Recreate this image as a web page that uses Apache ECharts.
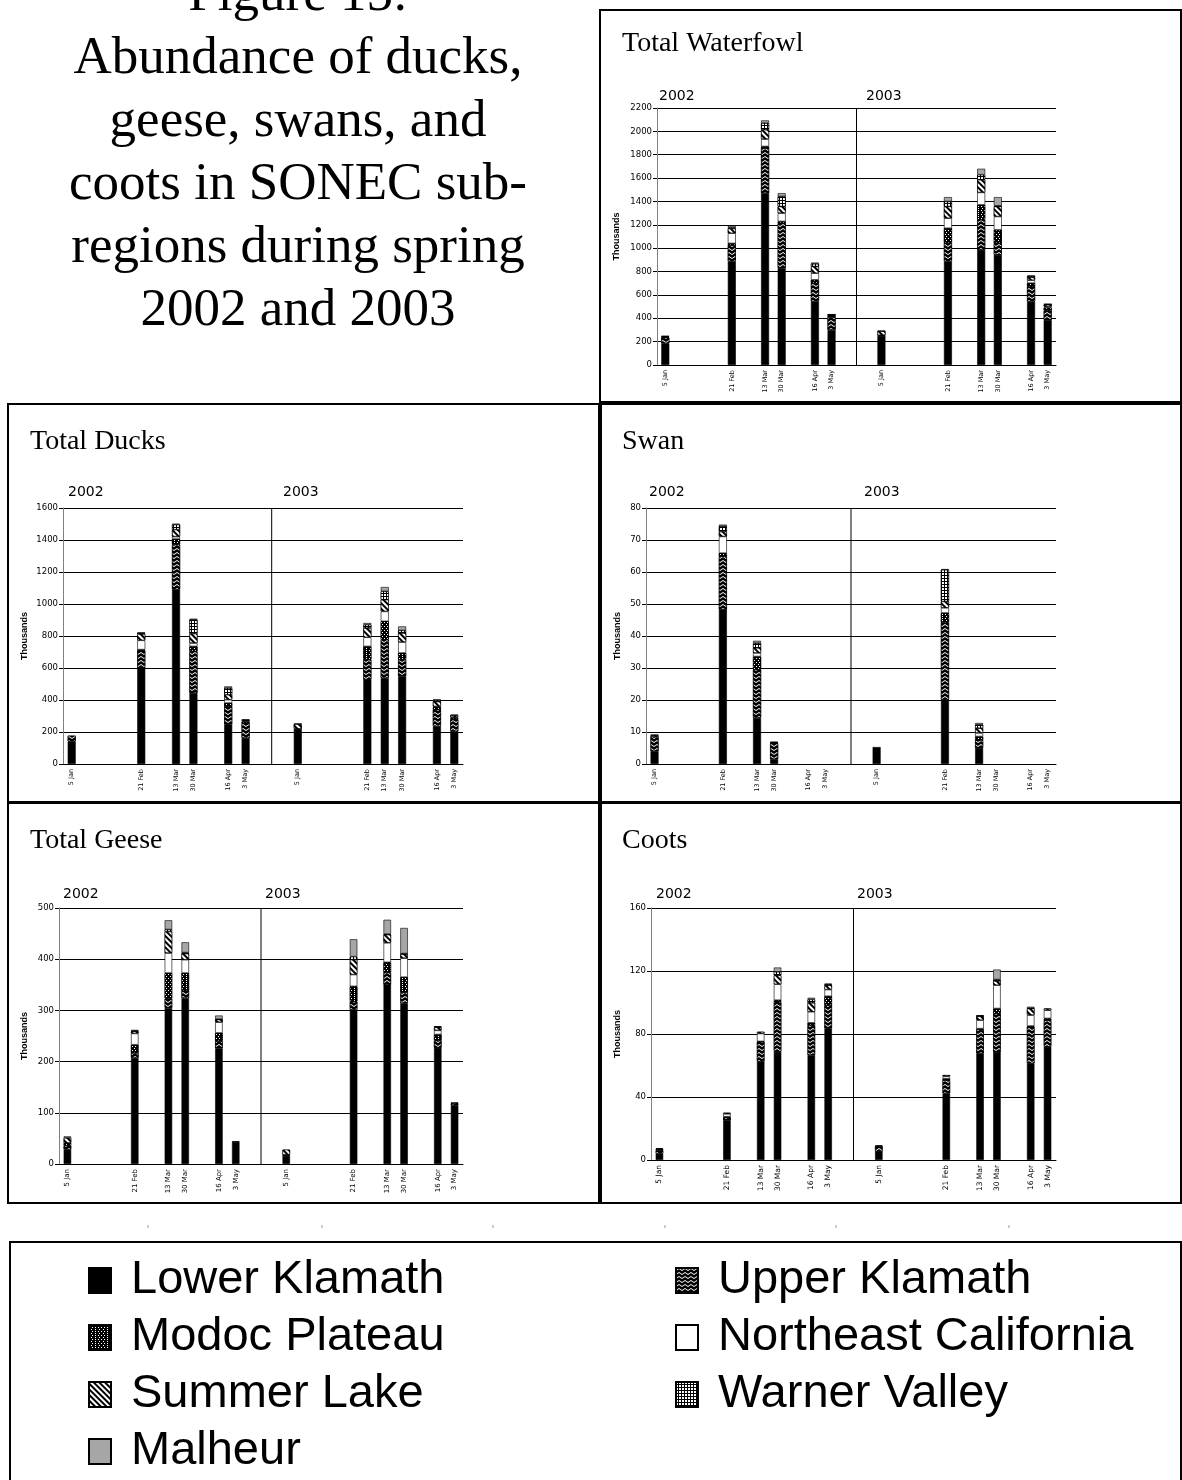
<!DOCTYPE html>
<html>
<head>
<meta charset="utf-8">
<script src="https://cdn.jsdelivr.net/npm/echarts@6/dist/echarts.min.js"></script>
<style>
  html, body { margin: 0; padding: 0; background: #fff; }
  #chart { width: 1182px; height: 1480px; }
</style>
</head>
<body>
<div id="chart"></div>
<script>
// Survey slots per year; blank slots keep the spacing between survey dates.
const dates2002 = ['5 Jan', '', '', '', '21 Feb', '', '13 Mar', '30 Mar', '', '16 Apr', '3 May', ''];
const dates2003 = ['', '5 Jan', '', '', '', '21 Feb', '', '13 Mar', '30 Mar', '', '16 Apr', '3 May'];
const dates2003Ducks = ['', '5 Jan', '', '', '', '21 Feb', '13 Mar', '30 Mar', '', '16 Apr', '3 May'];

const regions = ['Lower Klamath', 'Upper Klamath', 'Modoc Plateau', 'Northeast California',
                 'Summer Lake', 'Warner Valley', 'Malheur'];

// Counts in thousands, one value per survey:
// 2002: 5 Jan, 21 Feb, 13 Mar, 30 Mar, 16 Apr, 3 May | 2003: same dates
const waterfowlLowerKlamath = [185, 886, 1471, 829, 543, 300, 250, 886, 986, 943, 543, 386];
const waterfowlUpperKlamath = [50, 140, 386, 385, 157, 110, 5, 157, 257, 100, 128, 80];
const waterfowlModoc        = [5, 15, 14, 15, 29, 8, 0, 128, 128, 114, 30, 25];
const waterfowlNECalifornia = [0, 87, 63, 71, 57, 4, 0, 86, 106, 114, 25, 10];
const waterfowlSummerLake   = [5, 40, 80, 57, 57, 6, 35, 100, 109, 86, 25, 15];
const waterfowlWarner       = [0, 8, 57, 86, 23, 3, 0, 43, 43, 6, 10, 4];
const waterfowlMalheur      = [4, 15, 23, 28, 11, 3, 4, 37, 51, 74, 5, 3];

const ducksLowerKlamath = [142, 600, 1090, 444, 246, 162, 220, 527, 537, 548, 235, 204];
const ducksUpperKlamath = [35, 110, 281, 260, 114, 94, 0, 125, 240, 104, 105, 73];
const ducksModoc        = [0, 5, 35, 31, 21, 8, 0, 83, 115, 42, 15, 10];
const ducksNECalifornia = [0, 58, 15, 21, 21, 5, 0, 57, 62, 68, 5, 5];
const ducksSummerLake   = [0, 40, 44, 59, 31, 5, 30, 58, 73, 57, 30, 10];
const ducksWarner       = [0, 5, 31, 87, 42, 3, 0, 21, 52, 16, 10, 6];
const ducksMalheur      = [0, 5, 6, 6, 10, 0, 2, 10, 27, 25, 2, 0];

const swanLowerKlamath = [4, 48.2, 14.4, 1.5, 0, 0, 5.3, 20.1, 5, 0, 0, 0];
const swanUpperKlamath = [4.5, 16.7, 15.1, 5.0, 0, 0, 0, 24.0, 2.5, 0, 0, 0];
const swanModoc        = [0, 1, 4.1, 0.2, 0, 0, 0, 3.1, 1.1, 0, 0, 0];
const swanNECalifornia = [0, 5.2, 1.1, 0, 0, 0, 0, 1.6, 1.1, 0, 0, 0];
const swanSummerLake   = [0.5, 1.5, 1.6, 0.2, 0, 0, 0, 2.0, 1.5, 0, 0, 0];
const swanWarner       = [0, 1.7, 1.5, 0, 0, 0, 0, 9.9, 1.1, 0, 0, 0];
const swanMalheur      = [0.2, 0.5, 0.7, 0, 0, 0, 0, 0.2, 0.5, 0, 0, 0];

const geeseLowerKlamath = [28, 207, 305, 324, 226, 43, 16, 301, 350, 314, 227, 115];
const geeseUpperKlamath = [8, 10, 18, 14, 14, 0, 2, 16, 24, 21, 14, 3];
const geeseModoc        = [5, 16, 50, 35, 16, 1, 0, 30, 20, 30, 12, 0];
const geeseNECalifornia = [0, 22, 39, 26, 21, 0, 0, 23, 38, 37, 8, 0];
const geeseSummerLake   = [10, 4, 42, 12, 5, 0, 10, 29, 16, 8, 6, 2];
const geeseWarner       = [0, 1, 4, 2, 1, 0, 0, 6, 1, 1, 1, 0];
const geeseMalheur      = [3, 2, 18, 20, 7, 0, 0, 34, 28, 50, 1, 0];

const cootsLowerKlamath = [4, 25.4, 62.4, 68.7, 66.6, 83.5, 5.3, 42.3, 67.7, 68.7, 61.3, 71.9];
const cootsUpperKlamath = [2, 1.6, 12.6, 31.7, 19, 14.8, 3.5, 8.4, 15.2, 24.3, 23.3, 16.9];
const cootsModoc        = [1, 0.5, 0.3, 1.1, 1.5, 5.7, 0.3, 1.0, 0.5, 3.2, 0.5, 1.1];
const cootsNECalifornia = [0, 1.8, 5.0, 10.1, 7, 4.2, 0, 1.5, 5.4, 14.8, 6.9, 5.2];
const cootsSummerLake   = [0.4, 0.7, 1.1, 5.7, 5.7, 2.8, 0, 0.7, 2.5, 2.7, 4.2, 1.1];
const cootsWarner       = [0, 0, 0, 2.2, 2.1, 0.5, 0, 0, 0.3, 0.9, 0.2, 0];
const cootsMalheur      = [0, 0, 0, 2.7, 1.1, 0.5, 0, 0, 0.2, 6.3, 0.9, 0];

// Fill patterns for each sub-region
const regionStyle = {
  'Lower Klamath': { color: '#000' },
  'Upper Klamath': { color: '#000', decal: {
      symbol: 'path://M0,2L3,0L6,2L6,3L3,1L0,3Z', symbolSize: 1, symbolKeepAspect: false,
      color: '#fff', backgroundColor: '#000', dashArrayX: [6, 0], dashArrayY: [3, 1] } },
  'Modoc Plateau': { color: '#000', decal: {
      symbol: 'rect', symbolSize: 1, color: '#fff', backgroundColor: '#000',
      dashArrayX: [[1, 2], [0, 1.5, 1, 0.5]], dashArrayY: [1, 1] } },
  'Northeast California': { color: '#fff' },
  'Summer Lake': { color: '#000', decal: {
      symbol: 'rect', symbolSize: 1, color: '#000', backgroundColor: '#fff',
      dashArrayX: [1, 0], dashArrayY: [2, 2], rotation: Math.PI / 4 } },
  'Warner Valley': { color: '#000', decal: {
      symbol: 'rect', symbolSize: 1, color: '#fff', backgroundColor: '#000',
      dashArrayX: [2, 1], dashArrayY: [2, 1] } },
  'Malheur': { color: '#a6a6a6' }
};

const panels = [
  { id: 'waterfowl', title: 'Total Waterfowl', frame: [600, 10, 581, 392], titleAt: [622, 44],
    grid: { left: 657, top: 108, width: 399, height: 257 }, yMax: 2200, yStep: 200, nameGap: 36,
    years: [[659, 96], [866, 96]], labels: dates2002.concat(dates2003), barWidth: 8, xFont: 6.5,
    data: [waterfowlLowerKlamath, waterfowlUpperKlamath, waterfowlModoc, waterfowlNECalifornia,
           waterfowlSummerLake, waterfowlWarner, waterfowlMalheur] },
  { id: 'ducks', title: 'Total Ducks', frame: [8, 404, 591, 398], titleAt: [30, 442],
    grid: { left: 63, top: 508, width: 400, height: 256 }, yMax: 1600, yStep: 200, nameGap: 34,
    years: [[68, 492], [283, 492]], labels: dates2002.concat(dates2003Ducks), barWidth: 8, xFont: 6.5,
    data: [ducksLowerKlamath, ducksUpperKlamath, ducksModoc, ducksNECalifornia,
           ducksSummerLake, ducksWarner, ducksMalheur] },
  { id: 'swan', title: 'Swan', frame: [601, 404, 580, 398], titleAt: [622, 442],
    grid: { left: 646, top: 508, width: 410, height: 256 }, yMax: 80, yStep: 10, nameGap: 24,
    years: [[649, 492], [864, 492]], labels: dates2002.concat(dates2003), barWidth: 8, xFont: 6.5,
    data: [swanLowerKlamath, swanUpperKlamath, swanModoc, swanNECalifornia,
           swanSummerLake, swanWarner, swanMalheur] },
  { id: 'geese', title: 'Total Geese', frame: [8, 803, 591, 400], titleAt: [30, 841],
    grid: { left: 59, top: 908, width: 404, height: 256 }, yMax: 500, yStep: 100, nameGap: 30,
    years: [[63, 894], [265, 894]], labels: dates2002.concat(dates2003), barWidth: 7.5, xFont: 7,
    data: [geeseLowerKlamath, geeseUpperKlamath, geeseModoc, geeseNECalifornia,
           geeseSummerLake, geeseWarner, geeseMalheur] },
  { id: 'coots', title: 'Coots', frame: [601, 803, 580, 400], titleAt: [622, 841],
    grid: { left: 651, top: 908, width: 405, height: 252 }, yMax: 160, yStep: 40, nameGap: 29,
    years: [[656, 894], [857, 894]], labels: dates2002.concat(dates2003), barWidth: 7.5, xFont: 7.5,
    data: [cootsLowerKlamath, cootsUpperKlamath, cootsModoc, cootsNECalifornia,
           cootsSummerLake, cootsWarner, cootsMalheur] }
];

// Place the per-survey values into their date slots
function slotData(labels, values) {
  let k = 0;
  return labels.map(function (l) {
    if (!l) return null;
    const v = values[k++];
    return v ? v : null;
  });
}

const CHART_FONT = '"DejaVu Sans", Verdana, sans-serif';
const grids = [], xAxes = [], yAxes = [], series = [], graphics = [];

panels.forEach(function (p, i) {
  grids.push(Object.assign({ containLabel: false }, p.grid));
  xAxes.push({
    type: 'category', gridIndex: i, data: p.labels,
    axisLine: { lineStyle: { color: '#000', width: 1 } },
    axisTick: { interval: 0, length: 4, lineStyle: { color: '#000' } },
    axisLabel: { interval: 0, rotate: 90, fontSize: p.xFont, fontFamily: CHART_FONT, color: '#000', margin: 5 },
    splitLine: { show: false }
  });
  // hidden slot-scale axis used for the year divider
  xAxes.push({ type: 'value', gridIndex: i, min: 0, max: p.labels.length, show: false });
  yAxes.push({
    type: 'value', gridIndex: i, min: 0, max: p.yMax, interval: p.yStep,
    name: 'Thousands', nameLocation: 'middle', nameGap: p.nameGap,
    nameTextStyle: { fontSize: 9, fontWeight: 'bold', fontFamily: '"Liberation Sans", Arial, sans-serif', color: '#000' },
    axisLine: { show: true, lineStyle: { color: '#808080', width: 1 } },
    axisTick: { show: true, length: 4, lineStyle: { color: '#000' } },
    axisLabel: { fontSize: 8.5, fontFamily: CHART_FONT, color: '#000', margin: 5,
                 formatter: function (v) { return String(v); } },
    splitLine: { show: true, lineStyle: { color: '#000', width: 1 } }
  });
  regions.forEach(function (r, j) {
    series.push({
      type: 'bar', name: r, xAxisIndex: 2 * i, yAxisIndex: i, stack: p.id,
      barWidth: p.barWidth, data: slotData(p.labels, p.data[j]),
      itemStyle: Object.assign({ borderColor: '#000', borderWidth: 0.6 }, regionStyle[r]),
      emphasis: { disabled: true }
    });
  });
  series.push({
    type: 'line', xAxisIndex: 2 * i + 1, yAxisIndex: i, silent: true,
    data: [[dates2002.length, 0], [dates2002.length, p.yMax]],
    symbol: 'none', lineStyle: { color: '#000', width: 1 }, z: 1
  });

  graphics.push({
    type: 'rect', shape: { x: p.frame[0], y: p.frame[1], width: p.frame[2], height: p.frame[3] },
    style: { fill: null, stroke: '#000', lineWidth: 2 }, silent: true
  });
  graphics.push({
    type: 'text', x: p.titleAt[0], y: p.titleAt[1], silent: true,
    style: { text: p.title, font: '28px "Liberation Serif", "Times New Roman", serif',
             fill: '#000', textVerticalAlign: 'middle' }
  });
  ['2002', '2003'].forEach(function (yr, k) {
    graphics.push({
      type: 'text', x: p.years[k][0], y: p.years[k][1], silent: true,
      style: { text: yr, font: '14px ' + CHART_FONT, fill: '#000', textVerticalAlign: 'middle' }
    });
  });
});

// Figure caption
const captionLines = ['Figure 15:', 'Abundance of ducks,', 'geese, swans, and',
                      'coots in SONEC sub-', 'regions during spring', '2002 and 2003'];
captionLines.forEach(function (line, k) {
  graphics.push({
    type: 'text', x: 298, y: -4 + 63 * k, silent: true,
    style: { text: line, font: '53px "Liberation Serif", "Times New Roman", serif',
             fill: '#000', textAlign: 'center', textVerticalAlign: 'middle' }
  });
});

// Faint tick marks between the panels and the legend
[148, 322, 493, 665, 836, 1009].forEach(function (x) {
  graphics.push({ type: 'line', silent: true, shape: { x1: x, y1: 1225, x2: x, y2: 1228 },
                  style: { stroke: '#999', lineWidth: 1 } });
});

// Legend frame
graphics.push({
  type: 'rect', shape: { x: 10, y: 1242, width: 1171, height: 260 },
  style: { fill: null, stroke: '#000', lineWidth: 2 }, silent: true
});

const legendText = { fontSize: 47, fontFamily: '"Liberation Sans", Arial, sans-serif', color: '#000',
                     lineHeight: 57, padding: [0, 0, 0, 15] };

const option = {
  animation: false,
  backgroundColor: '#fff',
  grid: grids,
  xAxis: xAxes,
  yAxis: yAxes,
  series: series,
  graphic: graphics,
  legend: [
    { left: 88, top: 1252, height: 228, padding: 0, orient: 'vertical', selectedMode: false, icon: 'rect',
      itemWidth: 22, itemHeight: 25, itemGap: 0, textStyle: legendText,
      data: ['Lower Klamath', 'Modoc Plateau', 'Summer Lake', 'Malheur'] },
    { left: 675, top: 1252, height: 228, padding: 0, orient: 'vertical', selectedMode: false, icon: 'rect',
      itemWidth: 22, itemHeight: 25, itemGap: 0, textStyle: legendText,
      data: ['Upper Klamath', 'Northeast California', 'Warner Valley'] }
  ]
};

const chart = echarts.init(document.getElementById('chart'));
chart.setOption(option);
</script>
</body>
</html>
